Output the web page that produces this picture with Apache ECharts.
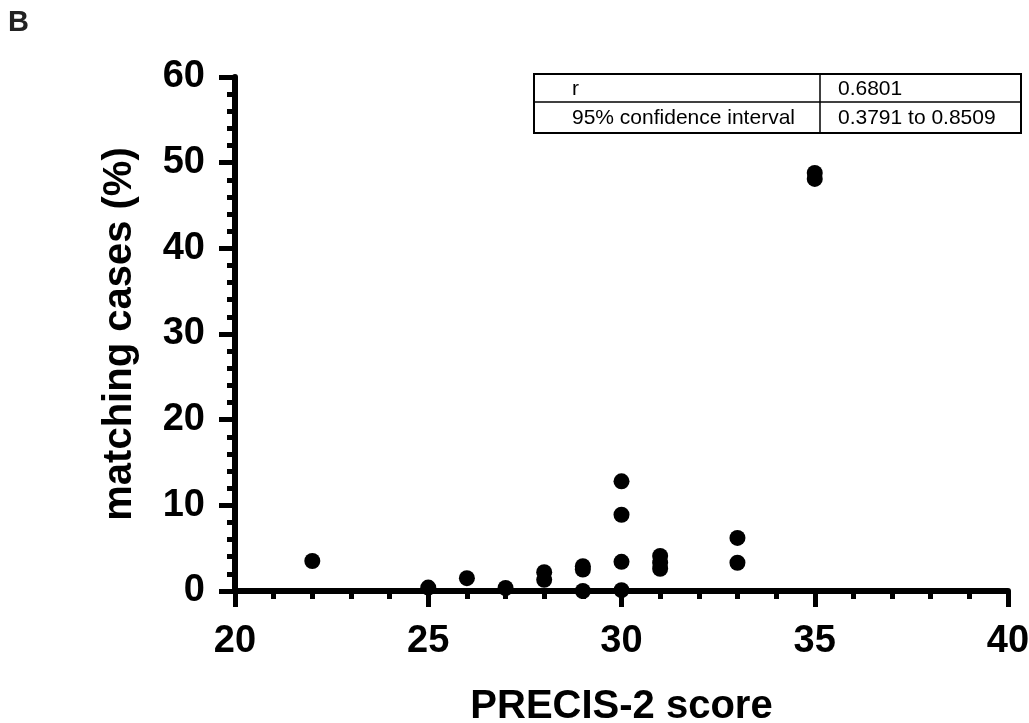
<!DOCTYPE html>
<html>
<head>
<meta charset="utf-8">
<script src="https://cdn.jsdelivr.net/npm/echarts@6/dist/echarts.min.js"></script>
<style>
html,body{margin:0;padding:0;background:#fff;}
#chart{width:1029px;height:723px;}
</style>
</head>
<body>
<div id="chart"></div>
<script>
// PRECIS-2 score (x) vs matching cases % (y)
const precisScores = [22, 25, 26, 27, 28, 28, 29, 29, 29, 30, 30, 30, 30, 31, 31, 31, 33, 33, 35, 35];
const matchingPct  = [3.5, 0.4, 1.5, 0.35, 2.2, 1.3, 2.9, 2.5, 0.0, 12.8, 8.9, 3.4, 0.1, 4.1, 3.3, 2.6, 6.2, 3.3, 48.8, 48.1];
const tableRows = [['r', '0.6801'], ['95% confidence interval', '0.3791 to 0.8509']];
const panelLabel = 'B';
const xTitle = 'PRECIS-2 score';
const yTitle = 'matching cases (%)';

const points = precisScores.map((x, i) => [x, matchingPct[i]]);
const FONT = '"Liberation Sans", Arial, Helvetica, sans-serif';

const chart = echarts.init(document.getElementById('chart'));

// table annotation (graphic)
const tX0 = 534, tX1 = 820, tX2 = 1021, tY0 = 74, tY1 = 102, tY2 = 133;
const graphics = [
  {type:'text', left: 8, top: 8, style:{text: panelLabel, font: 'bold 29px ' + FONT, fill:'#222'}},
  {type:'rect', shape:{x:tX0, y:tY0, width:tX2-tX0, height:tY2-tY0}, style:{fill:'#fff', stroke:'#000', lineWidth:2}, z:10},
  {type:'line', shape:{x1:tX0, y1:tY1, x2:tX2, y2:tY1}, style:{stroke:'#000', lineWidth:1.5}, z:11},
  {type:'line', shape:{x1:tX1, y1:tY0, x2:tX1, y2:tY2}, style:{stroke:'#000', lineWidth:1.5}, z:11}
];
const rowsY = [(tY0+tY1)/2 + 1, (tY1+tY2)/2 + 1];
tableRows.forEach((row, r) => {
  graphics.push({type:'text', x: 572, y: rowsY[r], z:12, style:{text: row[0], font: '21px ' + FONT, fill:'#000', verticalAlign:'middle'}});
  graphics.push({type:'text', x: tX1 + 18, y: rowsY[r], z:12, style:{text: row[1], font: '21px ' + FONT, fill:'#000', verticalAlign:'middle'}});
});

chart.setOption({
  animation: false,
  backgroundColor: '#fff',
  grid: {left: 235, right: 21, top: 77, bottom: 132, containLabel: false, outerBoundsMode: 'none'},
  xAxis: {
    type: 'value', min: 20, max: 40, interval: 5,
    axisLine: {show: true, onZero: false, lineStyle: {color: '#000', width: 6}},
    axisTick: {show: true, length: 16, lineStyle: {color: '#000', width: 5}},
    minorTick: {show: true, splitNumber: 5, length: 8, lineStyle: {color: '#000', width: 5}},
    splitLine: {show: false},
    axisLabel: {fontSize: 38, fontWeight: 'bold', color: '#000', margin: 32, fontFamily: FONT},
    name: xTitle, nameLocation: 'middle', nameGap: 96,
    nameTextStyle: {fontSize: 40, fontWeight: 'bold', color: '#000', fontFamily: FONT}
  },
  yAxis: {
    type: 'value', min: 0, max: 60, interval: 10,
    axisLine: {show: true, onZero: false, lineStyle: {color: '#000', width: 6}},
    axisTick: {show: true, length: 16, lineStyle: {color: '#000', width: 5}},
    minorTick: {show: true, splitNumber: 5, length: 8, lineStyle: {color: '#000', width: 5}},
    splitLine: {show: false},
    axisLabel: {fontSize: 38, fontWeight: 'bold', color: '#000', margin: 30, fontFamily: FONT},
    name: yTitle, nameLocation: 'middle', nameGap: 95,
    nameTextStyle: {fontSize: 40, fontWeight: 'bold', color: '#000', fontFamily: FONT}
  },
  series: [{
    type: 'scatter',
    data: points,
    symbol: 'circle',
    symbolSize: 16,
    itemStyle: {color: '#000', opacity: 1},
    z: 5
  }],
  graphic: graphics
});
</script>
</body>
</html>
